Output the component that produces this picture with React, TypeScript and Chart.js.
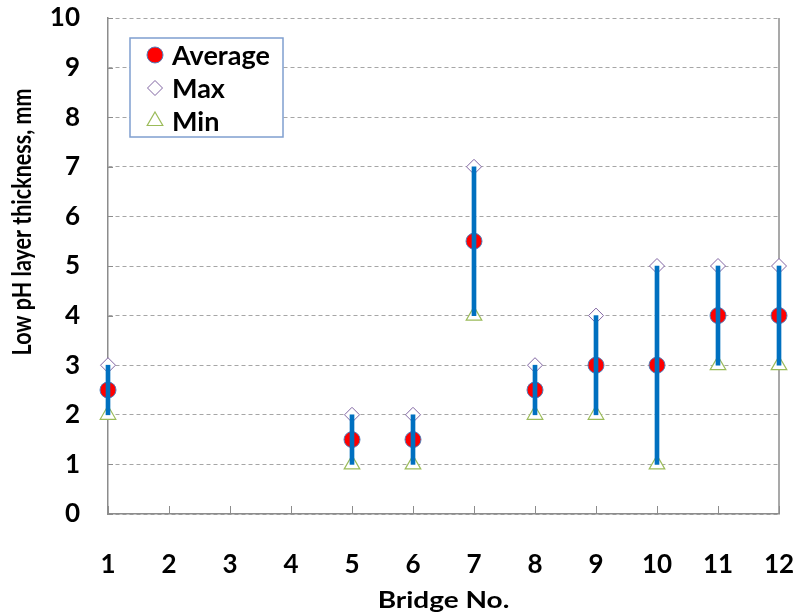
import React, { useEffect, useRef } from 'react';
import { Chart, registerables } from 'chart.js';

Chart.register(...registerables);

const bridges = [1, 5, 6, 7, 8, 9, 10, 11, 12];
const averageValues = [2.5, 1.5, 1.5, 5.5, 2.5, 3, 3, 4, 4];
const maxValues = [3, 2, 2, 7, 3, 4, 5, 5, 5];
const minValues = [2, 1, 1, 4, 2, 2, 1, 3, 3];
const xTickValues = [1, 2, 3, 4, 5, 6, 7, 8, 9, 10, 11, 12];
const yTickValues = [0, 1, 2, 3, 4, 5, 6, 7, 8, 9, 10];
const legendLabels = ['Average', 'Max', 'Min'];
const xTitle = 'Bridge No.';
const yTitle = 'Low pH layer thickness, mm';

const FONT = 'Lato, "Open Sans", sans-serif';
const AXIS_COLOR = '#8C8C8C';
const BLUE = '#0070C0';
const RED = '#FF0000';
const PURPLE = '#8064A2';
const GREEN = '#9BBB59';
const MARKER_EDGE = '#4F81BD';

function drawMarker(ctx: CanvasRenderingContext2D, kind: number, x: number, y: number) {
  ctx.save();
  ctx.beginPath();
  if (kind === 0) {
    ctx.arc(x, y, 8, 0, Math.PI * 2);
    ctx.fillStyle = RED;
    ctx.fill();
    ctx.lineWidth = 1;
    ctx.strokeStyle = MARKER_EDGE;
    ctx.stroke();
  } else if (kind === 1) {
    const r = 7.5;
    ctx.moveTo(x - r, y);
    ctx.lineTo(x, y - r);
    ctx.lineTo(x + r, y);
    ctx.lineTo(x, y + r);
    ctx.closePath();
    ctx.fillStyle = '#fff';
    ctx.fill();
    ctx.lineWidth = 1;
    ctx.strokeStyle = PURPLE;
    ctx.stroke();
  } else {
    const r = 9;
    for (let i = 0; i < 3; i++) {
      const a = (i * 2 * Math.PI) / 3;
      const px = x + Math.sin(a) * r;
      const py = y - Math.cos(a) * r;
      if (i === 0) ctx.moveTo(px, py);
      else ctx.lineTo(px, py);
    }
    ctx.closePath();
    ctx.fillStyle = '#fff';
    ctx.fill();
    ctx.lineWidth = 1.2;
    ctx.strokeStyle = GREEN;
    ctx.stroke();
  }
  ctx.restore();
}

const decorPlugin = {
  id: 'decor',
  beforeDatasetsDraw(chart: any) {
    const { ctx, chartArea, scales } = chart;
    const xs = scales.x;
    const ys = scales.y;
    ctx.save();
    ctx.strokeStyle = AXIS_COLOR;
    ctx.lineWidth = 1.5;
    ctx.beginPath();
    ctx.moveTo(chartArea.right, chartArea.top);
    ctx.lineTo(chartArea.right, chartArea.bottom);
    ctx.stroke();
    ctx.lineWidth = 1;
    xTickValues.forEach((v) => {
      const px = Math.round(xs.getPixelForValue(v)) + 0.5;
      ctx.beginPath();
      ctx.moveTo(px, chartArea.bottom);
      ctx.lineTo(px, chartArea.bottom - 8);
      ctx.stroke();
    });
    yTickValues.forEach((v) => {
      const py = Math.round(ys.getPixelForValue(v)) + 0.5;
      ctx.beginPath();
      ctx.moveTo(chartArea.left, py);
      ctx.lineTo(chartArea.left + 5, py);
      ctx.stroke();
    });
    ctx.restore();
  },
  afterDraw(chart: any) {
    const { ctx, chartArea } = chart;
    // legend
    const bx = chartArea.left + 22;
    const by = chartArea.top + 20;
    const bw = 153;
    const bh = 99;
    ctx.save();
    ctx.fillStyle = '#fff';
    ctx.fillRect(bx, by, bw, bh);
    ctx.strokeStyle = '#7F9FCF';
    ctx.lineWidth = 1.5;
    ctx.strokeRect(bx, by, bw, bh);
    ctx.font = `bold 27px ${FONT}`;
    ctx.fillStyle = '#000';
    ctx.textBaseline = 'middle';
    ctx.textAlign = 'left';
    legendLabels.forEach((label, i) => {
      const cy = by + 17 + i * 33;
      drawMarker(ctx, i, bx + 25, cy);
      ctx.fillText(label, bx + 42, cy + 1);
    });
    ctx.restore();

    // axis titles (horizontally stretched like the source)
    const midX = (chartArea.left + chartArea.right) / 2;
    ctx.save();
    ctx.fillStyle = '#000';
    ctx.textAlign = 'center';
    ctx.textBaseline = 'alphabetic';
    ctx.font = `bold 23.5px ${FONT}`;
    ctx.translate(midX, 608);
    ctx.scale(1.19, 1);
    ctx.fillText(xTitle, 0, 0);
    ctx.restore();

    ctx.save();
    ctx.fillStyle = '#000';
    ctx.textAlign = 'center';
    ctx.textBaseline = 'alphabetic';
    ctx.font = `bold 21.5px ${FONT}`;
    ctx.translate(31, 222);
    ctx.scale(1.2, 1);
    ctx.rotate(-Math.PI / 2);
    ctx.fillText(yTitle, 0, 0);
    ctx.restore();
  },
};

export default function App() {
  const canvasRef = useRef<HTMLCanvasElement | null>(null);

  useEffect(() => {
    const canvas = canvasRef.current;
    if (!canvas) return;
    const chart = new Chart(canvas, {
      type: 'scatter',
      data: {
        datasets: [
          {
            type: 'bar',
            label: 'Range',
            data: bridges.map((b, i) => ({ x: b, y: [minValues[i], maxValues[i]] })) as any,
            backgroundColor: BLUE,
            borderWidth: 0,
            barThickness: 4,
            clip: false,
            order: 0,
          } as any,
          {
            label: 'Average',
            data: bridges.map((b, i) => ({ x: b, y: averageValues[i] })),
            pointStyle: 'circle',
            pointRadius: 8,
            pointBackgroundColor: RED,
            pointBorderColor: MARKER_EDGE,
            pointBorderWidth: 1,
            clip: false,
            order: 3,
          },
          {
            label: 'Max',
            data: bridges.map((b, i) => ({ x: b, y: maxValues[i] })),
            pointStyle: 'rectRot',
            pointRadius: 7.5,
            pointBackgroundColor: '#fff',
            pointBorderColor: PURPLE,
            pointBorderWidth: 1,
            clip: false,
            order: 2,
          },
          {
            label: 'Min',
            data: bridges.map((b, i) => ({ x: b, y: minValues[i] })),
            pointStyle: 'triangle',
            pointRadius: 9,
            pointBackgroundColor: '#fff',
            pointBorderColor: GREEN,
            pointBorderWidth: 1.2,
            clip: false,
            order: 1,
          },
        ],
      },
      options: {
        animation: false,
        responsive: false,
        maintainAspectRatio: false,
        layout: { padding: { top: 18, right: 16, left: 0, bottom: 0 } },
        plugins: {
          legend: { display: false },
          tooltip: { enabled: false },
        },
        scales: {
          x: {
            type: 'linear',
            min: 1,
            max: 12,
            offset: false,
            afterBuildTicks: (scale: any) => {
              scale.ticks = xTickValues.map((v) => ({ value: v }));
            },
            afterFit: (scale: any) => {
              scale.height = 102;
              scale.paddingLeft = 0;
              scale.paddingRight = 0;
            },
            grid: { display: false, drawTicks: false, offset: false },
            border: { display: true, color: AXIS_COLOR, width: 1.5 },
            ticks: {
              padding: 35,
              color: '#000',
              font: { family: FONT, size: 26, weight: 'bold' },
              autoSkip: false,
              maxRotation: 0,
            },
            title: { display: false },
          },
          y: {
            type: 'linear',
            min: 0,
            max: 10,
            afterBuildTicks: (scale: any) => {
              scale.ticks = yTickValues.map((v) => ({ value: v }));
            },
            afterFit: (scale: any) => {
              scale.width = 108;
              scale.paddingTop = 0;
              scale.paddingBottom = 0;
            },
            grid: { display: true, color: '#A6A6A6', lineWidth: 1, drawTicks: false },
            border: { display: true, color: AXIS_COLOR, width: 1.5, dash: [4, 3] },
            ticks: {
              padding: 28,
              color: '#000',
              font: { family: FONT, size: 26, weight: 'bold' },
            },
            title: { display: false },
          },
        },
      } as any,
      plugins: [decorPlugin],
    });
    return () => chart.destroy();
  }, []);

  return (
    <div style={{ position: 'fixed', left: 0, top: 0, width: 795, height: 616, background: '#fff' }}>
      <canvas ref={canvasRef} width={795} height={616} style={{ width: 795, height: 616, display: 'block' }} />
    </div>
  );
}
